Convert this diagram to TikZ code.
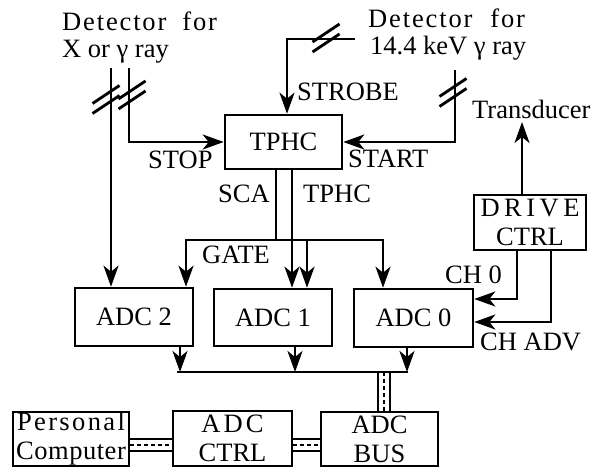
\documentclass[tikz,border=0pt]{standalone}
\usepackage{fontspec}
\setmainfont{Liberation Serif}
\newfontfamily\lsDet[LetterSpace=7]{Liberation Serif}
\newfontfamily\lsPers[LetterSpace=9]{Liberation Serif}
\newfontfamily\lsComp[LetterSpace=2]{Liberation Serif}
\newfontfamily\lsAdc[LetterSpace=12]{Liberation Serif}
\newfontfamily\lsDrive[LetterSpace=17]{Liberation Serif}
\usetikzlibrary{arrows.meta,backgrounds}
\begin{document}
\begin{tikzpicture}[x=1pt,y=-1pt,
  every node/.style={font=\fontsize{26.5}{29}\selectfont},
  box/.style={draw, line width=2.6pt, inner sep=0pt, align=center},
  lbl/.style={inner sep=0pt, anchor=base west},
  wire/.style={line width=2.7pt},
  arr/.style={wire, -{Stealth[length=21pt,width=15pt,inset=6pt]}},
  dbl/.style={line width=14pt, postaction={draw=white,line width=10pt}, postaction={draw, line width=2pt, dash pattern=on 4pt off 3pt}},
  cutmk/.pic={\draw[line width=2.8pt] (-13.5,4) -- (13.5,-14) (-13.5,14) -- (13.5,-4);}]
\useasboundingbox (0,0) rectangle (596,468);

% boxes
\node[box, minimum width=117pt, minimum height=54pt] (tphc) at (283.5,142) {TPHC};
\node[box, minimum width=112pt, minimum height=55pt] (drive) at (530,222.5) {{\lsDrive DRIVE}\\CTRL};
\node[box, minimum width=118pt, minimum height=58pt] (adc2) at (134,317) {ADC 2};
\node[box, minimum width=118pt, minimum height=57pt] (adc1) at (273,317.5) {ADC 1};
\node[box, minimum width=119pt, minimum height=58pt] (adc0) at (413.5,318) {ADC 0};
\node[box, minimum width=116pt, minimum height=54pt] (pc) at (71,439) {{\lsPers Personal}\\{\lsComp Computer}};
\node[box, minimum width=119pt, minimum height=55pt] (ctrl) at (232.5,438.5) {{\lsAdc ADC}\\CTRL};
\node[box, minimum width=117pt, minimum height=54pt] (bus) at (379.5,439) {ADC\\BUS};

% labels
\node[lbl] (detL1) at (62,31) {\lsDet Detector\hspace{16pt}for};
\node[lbl] (detL2) at (62,58) {X or γ ray};
\node[lbl] (detR1) at (368,28) {\lsDet Detector\hspace{18pt}for};
\node[lbl] (detR2) at (370,55) {14.4 keV γ ray};
\node[lbl] (strobe) at (297,101) {STROBE};
\node[lbl] (transd) at (472,118) {Transducer};
\node[lbl] (stop) at (148,168) {STOP};
\node[lbl] (start) at (348,167) {START};
\node[lbl] (sca) at (218,202) {SCA};
\node[lbl] (tphcl) at (303,202) {TPHC};
\node[lbl] (gate) at (202,263) {GATE};
\node[lbl] (ch0) at (445,283) {CH 0};
\node[lbl] (chadv) at (480,350) {CH ADV};

% coordinates
\coordinate (d1) at (111,68);
\coordinate (d2) at (129,68);
\coordinate (d3) at (455,70);
\coordinate (s0) at (355,39);
\coordinate (s1) at (287,39);
\coordinate (xsca) at (276,0);
\coordinate (g) at (276,240);
\coordinate (gL) at (186,240);
\coordinate (gM) at (307,240);
\coordinate (gR) at (383,240);
\coordinate (xtp) at (292,0);
\coordinate (tr) at (522,122);
\coordinate (c0) at (517,299);
\coordinate (c1) at (551,322);
\coordinate (bL) at (177,372);
\coordinate (bR) at (408,372);
\coordinate (a2) at (180,372);
\coordinate (a1) at (295,372);
\coordinate (a0) at (407,372);
\coordinate (bb) at (384,372);
\coordinate (hb) at (0,445);

% connectors
\draw[arr] (d1) -- (d1 |- adc2.north);
\draw[arr] (d2) |- (tphc.west);
\draw[arr] (s0) -- (s1) -- (s1 |- tphc.north);
\draw[arr] (d3) |- (tphc.east);
\draw[wire] (tphc.south -| xsca) -- (g);
\draw[arr] (g) -- (gL) -- (gL |- adc2.north);
\draw[arr] (g) -- (gR) -- (gR |- adc0.north);
\draw[arr] (gM) -- (gM |- adc1.north);
\draw[arr] (tphc.south -| xtp) -- (adc1.north -| xtp);
\draw[arr] (drive.north -| tr) -- (tr);
\draw[arr] (drive.south -| c0) -- (c0) -- (c0 -| adc0.east);
\draw[arr] (drive.south -| c1) -- (c1) -- (c1 -| adc0.east);
\draw[wire] (bL) -- (bR);
\draw[arr] (adc2.south -| a2) -- (a2);
\draw[arr] (adc1.south -| a1) -- (a1);
\draw[arr] (adc0.south -| a0) -- (a0);
\begin{scope}[on background layer]
\draw[dbl] (bb) -- (bb |- bus.north);
\draw[dbl] (pc.east |- hb) -- (ctrl.west |- hb);
\draw[dbl] (ctrl.east |- hb) -- (bus.west |- hb);
\end{scope}

% cable break marks
\pic at (106,99.5) {cutmk};
\pic at (132,95) {cutmk};
\pic at (326,38) {cutmk};
\pic at (453,92.5) {cutmk};
\end{tikzpicture}
\end{document}
